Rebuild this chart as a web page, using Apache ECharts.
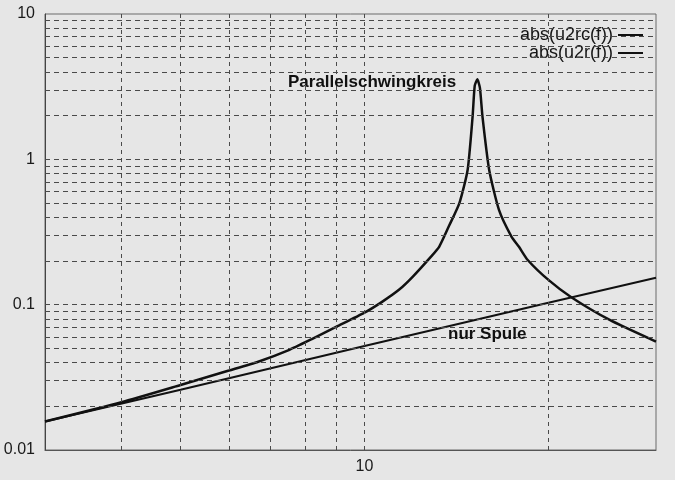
<!DOCTYPE html>
<html>
<head>
<meta charset="utf-8">
<script src="https://cdn.jsdelivr.net/npm/echarts@6/dist/echarts.min.js"></script>
<style>
html,body{margin:0;padding:0;background:#e6e6e6;}
#chart{width:675px;height:480px;}
</style>
</head>
<body>
<div id="chart"></div>
<script>
// Axis ranges
const xRange = [3, 30];
const yRange = [0.01, 10];
// Tick labels
const xTickValues = [10];
const xTickLabels = ['10'];
const yTickValues = [0.01, 0.1, 1, 10];
const yTickLabels = ['0.01', '0.1', '1', '10'];
// Grid lines
const xGridValues = [4, 5, 6, 7, 8, 9, 10, 20];
const yGridValues = [0.02, 0.03, 0.04, 0.05, 0.06, 0.07, 0.08, 0.09, 0.1,
                     0.2, 0.3, 0.4, 0.5, 0.6, 0.7, 0.8, 0.9, 1,
                     2, 3, 4, 5, 6, 7, 8, 9];
// Series: abs(u2rc(f)) - parallel resonant circuit
const seriesRCName = 'abs(u2rc(f))';
const freqRC = [3, 4, 5, 6, 6.7, 7.5, 8.2, 9, 10, 10.7, 11.4, 12.0, 12.85, 13.25, 13.76, 14.3, 14.75, 15.03, 15.15, 15.3, 15.45, 15.6, 16.0, 16.6, 17.4, 17.9, 18.5, 20, 21.8, 25.2, 30];
const valRC  = [0.0157, 0.0213, 0.028, 0.0352, 0.0405, 0.0485, 0.058, 0.0705, 0.0881, 0.105, 0.127, 0.156, 0.214, 0.25, 0.35, 0.5, 0.845, 1.97, 3.2, 3.55, 3.1, 1.97, 0.845, 0.449, 0.294, 0.25, 0.203, 0.148, 0.1125, 0.0785, 0.0557];
// Series: abs(u2r(f)) - coil only
const seriesRName = 'abs(u2r(f))';
const freqR = [3, 5, 10, 20, 30];
const valR  = [0.0157, 0.026, 0.052, 0.103, 0.153];
// Annotations
const annotRC = 'Parallelschwingkreis';
const annotR = 'nur Spule';

const FONT = "'Liberation Sans', Arial, sans-serif";

function pick(values, labels, v) {
  for (let i = 0; i < values.length; i++) {
    if (Math.abs(Math.log10(v) - Math.log10(values[i])) < 1e-6) return labels[i];
  }
  return '';
}

const chart = echarts.init(document.getElementById('chart'), null, {renderer: 'canvas'});
const gridLineData = xGridValues.map(v => ({xAxis: v, lineStyle: {type: [4, 4]}}))
  .concat(yGridValues.map(v => ({yAxis: v, lineStyle: {type: [5, 4]}})));

chart.setOption({
  backgroundColor: '#e6e6e6',
  animation: false,
  textStyle: {fontFamily: FONT},
  grid: {left: 45, right: 19, top: 14, bottom: 30, show: true, borderColor: '#6a6a6a', borderWidth: 1, backgroundColor: 'transparent'},
  legend: {
    data: [seriesRCName, seriesRName],
    orient: 'vertical',
    align: 'right',
    right: 32,
    top: 26,
    padding: 0,
    itemGap: 0,
    itemWidth: 25,
    itemHeight: 2,
    icon: 'rect',
    textStyle: {fontFamily: FONT, fontSize: 18, color: '#151515', lineHeight: 17},
    selectedMode: false
  },
  xAxis: {
    type: 'log', logBase: 10, min: xRange[0], max: xRange[1],
    axisLine: {show: true, lineStyle: {color: '#555', width: 1}},
    axisTick: {show: false},
    splitLine: {show: false},
    axisLabel: {
      fontFamily: FONT, fontSize: 16, color: '#1a1a1a', margin: 9,
      formatter: v => pick(xTickValues, xTickLabels, v)
    }
  },
  yAxis: {
    type: 'log', logBase: 10, min: yRange[0], max: yRange[1],
    axisLine: {show: true, lineStyle: {color: '#444', width: 1}},
    axisTick: {show: false},
    splitLine: {show: false},
    axisLabel: {
      fontFamily: FONT, fontSize: 16, color: '#1a1a1a', margin: 10,
      formatter: v => pick(yTickValues, yTickLabels, v)
    }
  },
  graphic: [
    {type: 'text', left: 288, top: 74, z: 10, style: {text: annotRC, fontFamily: FONT, fontSize: 17, fontWeight: 'bold', fill: '#111'}},
    {type: 'text', left: 448, top: 326, z: 10, style: {text: annotR, fontFamily: FONT, fontSize: 17, fontWeight: 'bold', fill: '#111'}}
  ],
  series: [
    {
      name: '__grid', type: 'line', data: [], z: 1, silent: true,
      markLine: {
        silent: true, symbol: ['none', 'none'], animation: false,
        label: {show: false},
        lineStyle: {color: '#4a4a4a', width: 1, type: [4, 4]},
        emphasis: {disabled: true},
        data: gridLineData
      }
    },
    {
      name: seriesRCName, type: 'line', z: 3,
      data: freqRC.map((f, i) => [f, valRC[i]]),
      showSymbol: false, symbol: 'none',
      smooth: 0.2,
      lineStyle: {color: '#111', width: 2.5},
      itemStyle: {color: '#111'}
    },
    {
      name: seriesRName, type: 'line', z: 3,
      data: freqR.map((f, i) => [f, valR[i]]),
      showSymbol: false, symbol: 'none',
      lineStyle: {color: '#111', width: 2},
      itemStyle: {color: '#111'}
    }
  ]
});
</script>
</body>
</html>
